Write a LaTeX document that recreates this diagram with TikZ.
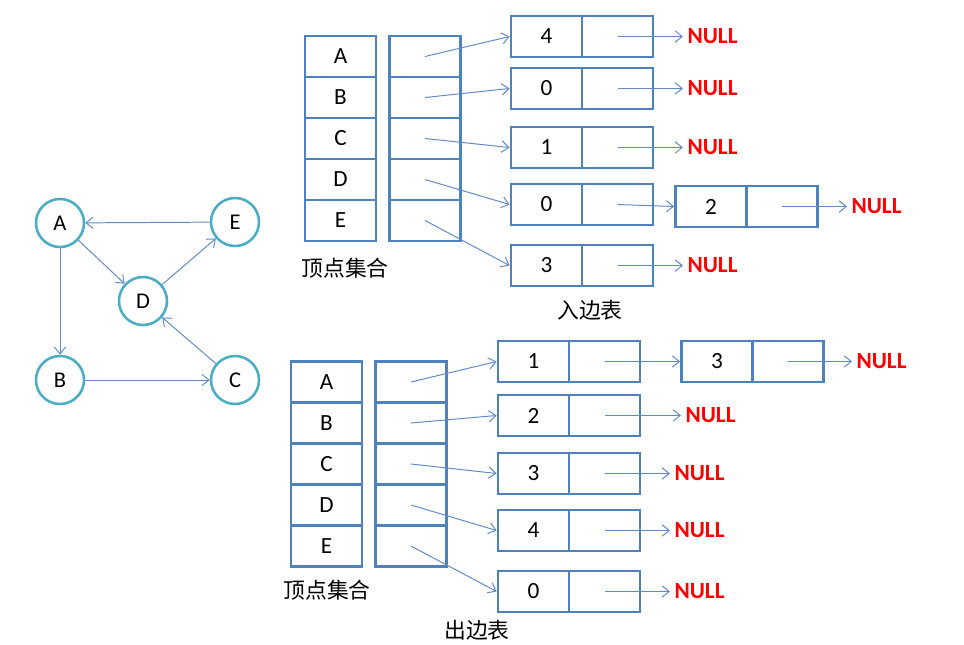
\documentclass[tikz,border=0pt]{standalone}
\usepackage{fontspec}
\setmainfont{Carlito}
\newfontfamily\cjk{Noto Sans CJK SC}
\usepackage{tikz}
\usetikzlibrary{arrows.meta}
\definecolor{boxblue}{RGB}{79,129,189}
\definecolor{linkblue}{RGB}{98,138,198}
\definecolor{ringteal}{RGB}{75,172,198}
\tikzset{
  vtx/.style={circle, draw=ringteal, fill=white, line width=1.8pt, minimum size=1.2cm, inner sep=0pt, font=\fontsize{16}{18}\selectfont},
  cell/.style={rectangle, draw=boxblue, line width=2pt, minimum width=1.775cm, minimum height=1.025cm, inner sep=0pt, font=\fontsize{16.5}{18}\selectfont},
  nul/.style={anchor=west, inner sep=3pt, text=red, font=\fontsize{16.5}{18}\selectfont\bfseries},
  lbl/.style={inner sep=1pt, font=\cjk\fontsize{15.5}{17}\selectfont},
  lnk/.style={color=linkblue, line width=0.7pt, -{Straight Barb[length=5pt,width=8pt]}}
}
\begin{document}
\begin{tikzpicture}[x=0.025cm, y=-0.025cm]
    \useasboundingbox (0,0) rectangle (964,644);
    % graph
    \node[vtx] (A) at (60,223) {A};
    \node[vtx] (E) at (235,222) {E};
    \node[vtx] (D) at (143,301) {D};
    \node[vtx] (B) at (60,380) {B};
    \node[vtx] (C) at (235,380) {C};
    \path [lnk] (E) edge (A);
    \path [lnk] (A) edge (D);
    \path [lnk] (D) edge (E);
    \path [lnk] (A) edge (B);
    \path [lnk] (B) edge (C);
    \path [lnk] (C) edge (D);
    % in-edge table
    \node[cell] (iA) at (340.5,56.5) {A};
    \node[cell] (iB) at (340.5,97.5) {B};
    \node[cell] (iC) at (340.5,138.5) {C};
    \node[cell] (iD) at (340.5,179.5) {D};
    \node[cell] (iE) at (340.5,220.5) {E};
    \node[cell] (ipA) at (425,56.5) {};
    \node[cell] (ipB) at (425,97.5) {};
    \node[cell] (ipC) at (425,138.5) {};
    \node[cell] (ipD) at (425,179.5) {};
    \node[cell] (ipE) at (425,220.5) {};
    \node[lbl] (ivset) at (345,268) {顶点集合};
    \node[cell] (i1d) at (546.5,36.5) {4};
    \node[cell] (i1n) at (617.5,36.5) {};
    \node[cell] (i2d) at (546.5,88.5) {0};
    \node[cell] (i2n) at (617.5,88.5) {};
    \node[cell] (i3d) at (546.5,147.5) {1};
    \node[cell] (i3n) at (617.5,147.5) {};
    \node[cell] (i4d) at (546.5,204.5) {0};
    \node[cell] (i4n) at (617.5,204.5) {};
    \node[cell] (i4bd) at (711,206.5) {2};
    \node[cell] (i4bn) at (782,206.5) {};
    \node[cell] (i5d) at (546.5,265.5) {3};
    \node[cell] (i5n) at (617.5,265.5) {};
    \node[nul] (i1x) at (683,36.5) {NULL};
    \node[nul] (i2x) at (683,88.5) {NULL};
    \node[nul] (i3x) at (683,147.5) {NULL};
    \node[nul] (i4x) at (847,206.5) {NULL};
    \node[nul] (i5x) at (683,265.5) {NULL};
    \node[lbl] (ititle) at (590,310) {入边表};
    \path [lnk] (ipA.center) edge (i1d.west);
    \path [lnk] (ipB.center) edge (i2d.west);
    \path [lnk] (ipC.center) edge (i3d.west);
    \path [lnk] (ipD.center) edge (i4d.west);
    \path [lnk] (ipE.center) edge (i5d.west);
    \path [lnk] (i1n.center) edge (i1x.west);
    \path [lnk] (i2n.center) edge (i2x.west);
    \path [lnk] (i3n.center) edge (i3x.west);
    \path [lnk] (i4n.center) edge (i4bd.west);
    \path [lnk] (i4bn.center) edge (i4x.west);
    \path [lnk] (i5n.center) edge (i5x.west);
    % out-edge table
    \node[cell] (oA) at (326.5,382) {A};
    \node[cell] (oB) at (326.5,423) {B};
    \node[cell] (oC) at (326.5,464) {C};
    \node[cell] (oD) at (326.5,505) {D};
    \node[cell] (oE) at (326.5,546) {E};
    \node[cell] (opA) at (411,382) {};
    \node[cell] (opB) at (411,423) {};
    \node[cell] (opC) at (411,464) {};
    \node[cell] (opD) at (411,505) {};
    \node[cell] (opE) at (411,546) {};
    \node[lbl] (ovset) at (327,590) {顶点集合};
    \node[cell] (o1d) at (533.5,361.5) {1};
    \node[cell] (o1n) at (604.5,361.5) {};
    \node[cell] (o1bd) at (717,361.5) {3};
    \node[cell] (o1bn) at (788,361.5) {};
    \node[cell] (o2d) at (533.5,415.5) {2};
    \node[cell] (o2n) at (604.5,415.5) {};
    \node[cell] (o3d) at (533.5,473.5) {3};
    \node[cell] (o3n) at (604.5,473.5) {};
    \node[cell] (o4d) at (533.5,530.5) {4};
    \node[cell] (o4n) at (604.5,530.5) {};
    \node[cell] (o5d) at (533.5,591.5) {0};
    \node[cell] (o5n) at (604.5,591.5) {};
    \node[nul] (o1x) at (852,361.5) {NULL};
    \node[nul] (o2x) at (681,415.5) {NULL};
    \node[nul] (o3x) at (670,473.5) {NULL};
    \node[nul] (o4x) at (670,530.5) {NULL};
    \node[nul] (o5x) at (670,591.5) {NULL};
    \node[lbl] (otitle) at (477,630) {出边表};
    \path [lnk] (opA.center) edge (o1d.west);
    \path [lnk] (opB.center) edge (o2d.west);
    \path [lnk] (opC.center) edge (o3d.west);
    \path [lnk] (opD.center) edge (o4d.west);
    \path [lnk] (opE.center) edge (o5d.west);
    \path [lnk] (o1n.center) edge (o1bd.west);
    \path [lnk] (o1bn.center) edge (o1x.west);
    \path [lnk] (o2n.center) edge (o2x.west);
    \path [lnk] (o3n.center) edge (o3x.west);
    \path [lnk] (o4n.center) edge (o4x.west);
    \path [lnk] (o5n.center) edge (o5x.west);
  \end{tikzpicture}
\end{document}
